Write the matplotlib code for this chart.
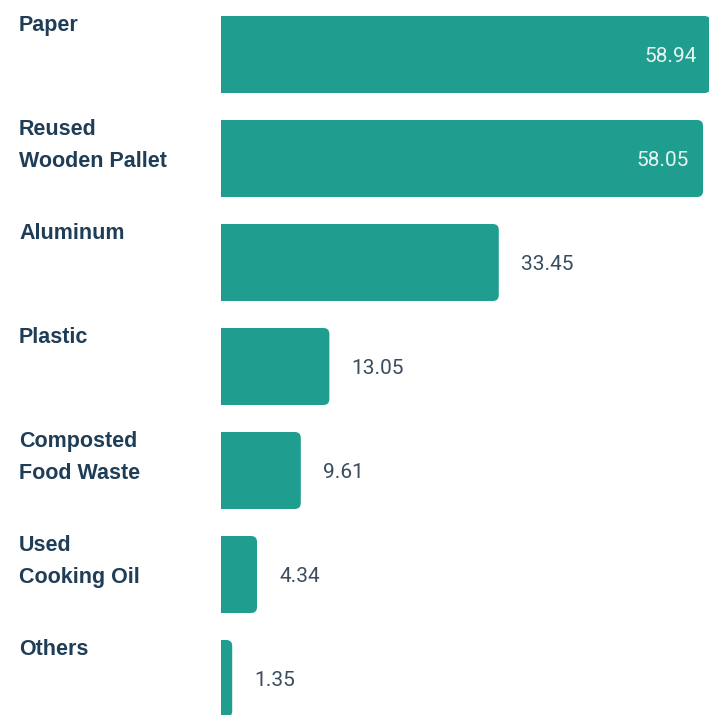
import matplotlib
matplotlib.use('Agg')
import matplotlib.pyplot as plt
from matplotlib.patches import FancyBboxPatch
import matplotlib.transforms as mtransforms

# Daten
categories = ['Paper', 'Reused\nWooden Pallet', 'Aluminum', 'Plastic',
              'Composted\nFood Waste', 'Used\nCooking Oil', 'Others']
values = [58.94, 58.05, 33.45, 13.05, 9.61, 4.34, 1.35]

bar_color = '#1f9e8f'
label_color = '#1f3d56'
value_color = '#3a4c5e'
inside_color = '#e6f4f1'
fontsize = 15.5

fig = plt.figure(figsize=(7.09, 7.15), dpi=100)
ax = fig.add_axes([221 / 709, 0, 1 - 221 / 709, 1])

y = list(range(len(categories)))
bar_h = 77 / 104
bars = ax.barh(y, values, height=bar_h, color=bar_color)

ax.set_xlim(0, max(values) * 0.997)
ax.set_ylim(6.351, -0.524)
ax.axis('off')

# Eckenradius in Pixel -> Datenkoordinaten
fig.canvas.draw()
bb = ax.get_window_extent()
px_x = bb.width / (ax.get_xlim()[1] - ax.get_xlim()[0])
px_y = bb.height / abs(ax.get_ylim()[1] - ax.get_ylim()[0])
r = 6 / px_x
aspect = px_x / px_y

# Balken mit abgerundeten Ecken rechts
for rect in bars:
    x0, y0 = rect.get_x(), rect.get_y()
    w, h = rect.get_width(), rect.get_height()
    rect.remove()
    patch = FancyBboxPatch((x0 - r * 2, y0), w + r * 2, h,
                           boxstyle=f'round,pad=0,rounding_size={r}',
                           mutation_aspect=aspect, linewidth=0,
                           facecolor=bar_color)
    ax.add_patch(patch)

# Kategorien links
trans = mtransforms.blended_transform_factory(fig.transFigure, ax.transData)
for yi, cat in zip(y, categories):
    ax.text(19 / 709, yi - bar_h / 2 - 0.01, cat, transform=trans,
            ha='left', va='top', fontsize=fontsize, fontweight='bold',
            color=label_color, fontname='Liberation Sans', linespacing=1.68,
            clip_on=False)

# Werte
for yi, v in zip(y, values):
    if v > 40:
        ax.text(v - 14 / px_x, yi, f'{v:.2f}', ha='right', va='center_baseline',
                fontsize=15, color=inside_color, fontname='Roboto')
    else:
        ax.text(v + 22 / px_x, yi, f'{v:.2f}', ha='left', va='center_baseline',
                fontsize=15, color=value_color, fontname='Roboto')

fig.savefig('out.png', dpi=100)
